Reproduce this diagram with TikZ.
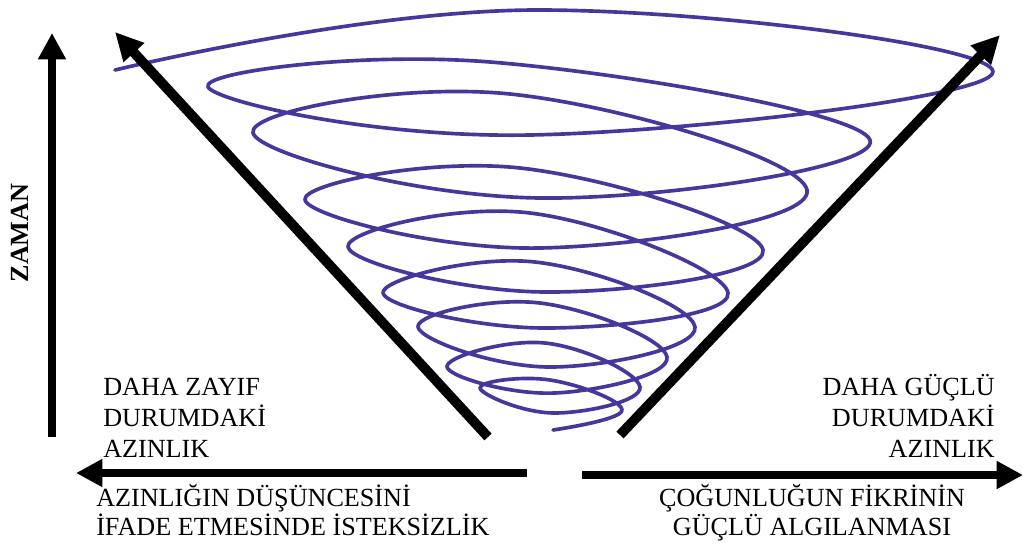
\documentclass[tikz,border=0pt]{standalone}
\usepackage{fontspec}
\setmainfont{Liberation Serif}
\usetikzlibrary{arrows.meta}
\definecolor{spiralblue}{RGB}{72,54,156}
\begin{document}
\begin{tikzpicture}[
	x=0.025cm, y=-0.025cm,
	axis/.style={line width=5.7pt, -{Triangle[length=0.66cm, width=0.66cm]}},
	cone/.style={line width=7pt, -{Triangle[length=0.7cm, width=0.66cm]}},
	spiral/.style={draw=spiralblue, line width=2.6pt, line cap=round, line join=round},
	lbl/.style={font=\fontsize{18.6}{22}\selectfont, inner sep=0pt},
	lbllow/.style={font=\fontsize{18.6}{20}\selectfont, inner sep=0pt}
	]
	\useasboundingbox (0,0) rectangle (1023,546);
	% spiral
	\draw[spiral] plot[smooth, tension=0.72] coordinates {
		(115,70) (540,10) (993,72) (530,135)
		(208,87) (490,62) (870,140) (540,198)
		(253,133) (510,94) (807,190) (540,248)
		(305,200) (520,168) (763,250) (545,292)
		(348,247) (530,213) (728,293) (545,328)
		(383,293) (535,262) (695,327) (550,367)
		(418,327) (540,303) (667,357) (555,393)
		(447,367) (545,343) (640,387) (555,413)
		(480,388) (550,380) (622,410) (553,430)};
	% cone arrows
	\coordinate (lb) at (488,437);
	\coordinate (lt) at (115,32);
	\coordinate (rb) at (620,435);
	\coordinate (rt) at (1000,35);
	\draw[cone] (lb) -- (lt);
	\draw[cone] (rb) -- (rt);
	% time axis
	\coordinate (zb) at (52,437);
	\coordinate (zt) at (52,33);
	\draw[axis] (zb) -- (zt);
	\node[lbl, font=\fontsize{18.6}{22}\selectfont\bfseries, rotate=90] (zaman) at (20,233) {ZAMAN};
	% horizontal axes
	\coordinate (hl) at (527,473);
	\coordinate (hlt) at (76,473);
	\coordinate (hr) at (582,475);
	\coordinate (hrt) at (1023,475);
	\draw[axis] (hl) -- (hlt);
	\draw[axis] (hr) -- (hrt);
	% labels
	\node[lbl, anchor=base west, align=left] (weak) at (103,457) {DAHA ZAYIF\\DURUMDAKİ\\AZINLIK};
	\node[lbl, anchor=base east, align=right] (strong) at (995,457) {DAHA GÜÇLÜ\\DURUMDAKİ\\AZINLIK};
	\node[lbllow, anchor=base west, align=left] (reluct) at (96,535) {AZINLIĞIN DÜŞÜNCESİNİ\\İFADE ETMESİNDE İSTEKSİZLİK};
	\node[lbllow, anchor=base, align=center] (major) at (812,535) {ÇOĞUNLUĞUN FİKRİNİN\\GÜÇLÜ ALGILANMASI};
\end{tikzpicture}
\end{document}
